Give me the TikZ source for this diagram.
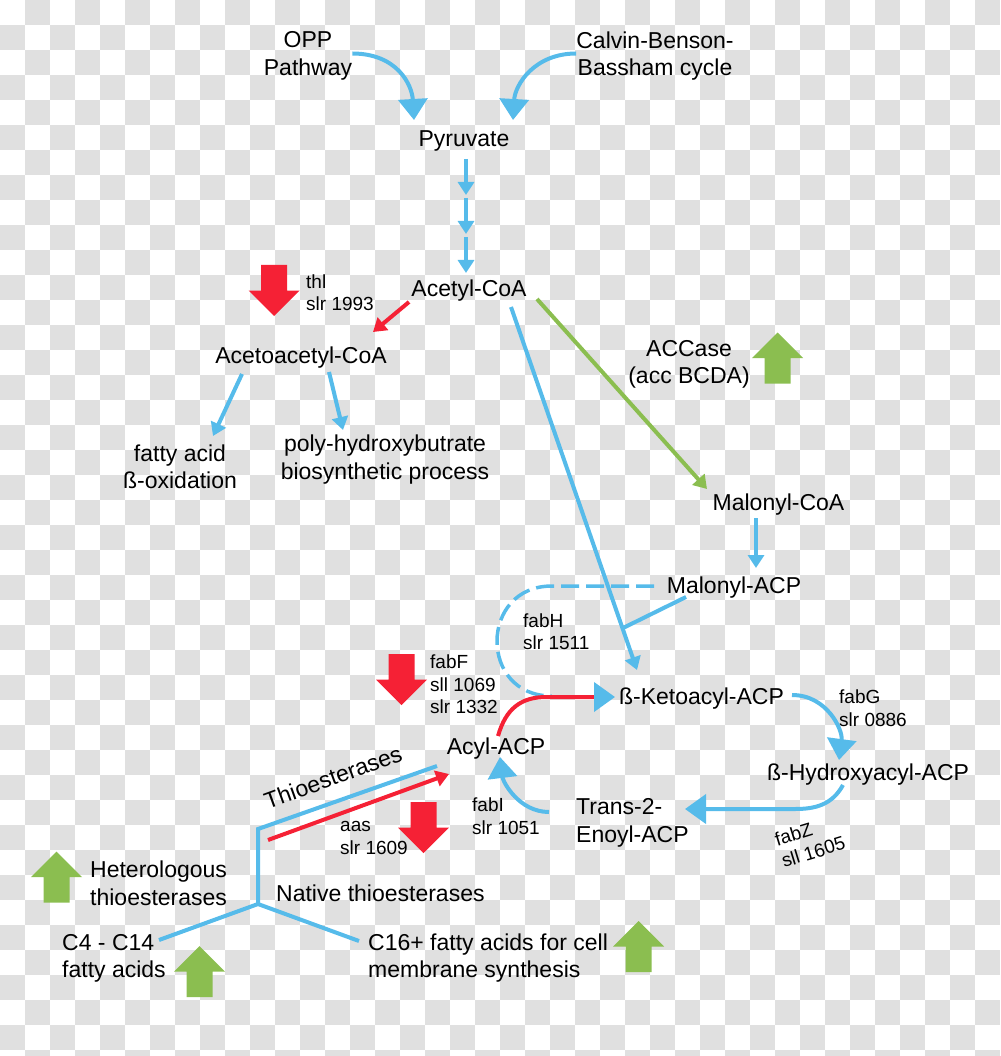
\documentclass[tikz,border=0pt]{standalone}
\usepackage{fontspec}
\setmainfont{Liberation Sans}
\usetikzlibrary{arrows.meta, calc}
\definecolor{pathblue}{RGB}{86,187,234}
\definecolor{pathred}{RGB}{245,33,53}
\definecolor{pathgreen}{RGB}{139,190,80}
\definecolor{checker}{RGB}{224,224,224}
\newcommand{\bigtext}{\fontsize{23}{27.5}\selectfont}
\newcommand{\genetext}{\fontsize{19}{22.5}\selectfont}
\tikzstyle{metab}=[font=\bigtext, inner sep=0, text depth=0pt, align=center]
\tikzstyle{note}=[metab, align=left, anchor=west]
\tikzstyle{gene}=[font=\genetext, inner sep=0, text depth=0pt, align=left, anchor=west]
\tikzstyle{flow}=[line width=4pt, -{Triangle[width=16pt,length=13pt]}]
\tikzstyle{bigflow}=[line width=4pt, -{Triangle[width=29pt,length=21pt]}]
\tikzset{blockup/.pic={\fill (0,-25.5) -- (25.5,0) -- (13,0) -- (13,25.5) -- (-13,25.5) -- (-13,0) -- (-25.5,0) -- cycle;}}

\begin{document}
\begin{tikzpicture}[x=1pt,y=-1pt]
\useasboundingbox (0,0) rectangle (1000,1056);
% transparent-looking background
\begin{scope}
\clip (0,0) rectangle (1000,1056);
\foreach \i in {0,...,39}{
	\foreach \j in {0,...,42}{
	\pgfmathtruncatemacro\chk{\i+\j}
	\ifodd\chk
		\fill[checker] (25*\i,25*\j) rectangle +(25,25);
	\fi
		}}
\end{scope}

% metabolites and genes
\node[metab] (opp) at (308,53.5) {OPP\\Pathway};
\node[metab] (calvin) at (655,53.5) {Calvin-Benson-\\Bassham cycle};
\node[metab] (pyr) at (464,139) {Pyruvate};
\node[metab] (acetyl) at (469,288) {Acetyl-CoA};
\node[gene] (thl) at (306,292.5) {thl\\slr 1993};
\node[metab] (aca) at (301,355) {Acetoacetyl-CoA};
\node[metab] (fao) at (180,466.5) {fatty acid\\ß-oxidation};
\node[metab] (phb) at (385,457) {poly-hydroxybutrate\\biosynthetic process};
\node[metab] (accase) at (689,362) {ACCase\\(acc BCDA)};
\node[metab] (malcoa) at (778.5,502) {Malonyl-CoA};
\node[metab] (malacp) at (734,585) {Malonyl-ACP};
\node[gene] (fabh) at (523,631.5) {fabH\\slr 1511};
\node[gene] (fabf) at (430,684.5) {fabF\\sll 1069\\slr 1332};
\node[metab] (keto) at (701.5,696) {ß-Ketoacyl-ACP};
\node[gene] (fabg) at (839,708) {fabG\\slr 0886};
\node[metab] (acyl) at (496,746) {Acyl-ACP};
\node[metab] (hydroxy) at (868,772) {ß-Hydroxyacyl-ACP};
\node[note] (enoyl) at (576,820.5) {Trans-2-\\Enoyl-ACP};
\node[gene] (fabi) at (472,816) {fabI\\slr 1051};
\node[gene, anchor=center, rotate=17] (fabz) at (810,841) {fabZ\\sll 1605};
\node[metab, rotate=20] (thio) at (333,777) {Thioesterases};
\node[gene] (aas) at (340,838) {aas\\slr 1609};
\node[note] (hetero) at (90,883) {Heterologous\\thioesterases};
\node[note] (native) at (276,893) {Native thioesterases};
\node[note] (short) at (62,956) {C4 - C14\\fatty acids};
\node[note] (long) at (368,955.5) {C16+ fatty acids for cell\\membrane synthesis};

% into pyruvate
\draw[bigflow, pathblue] (opp.east) .. controls +(45,0) and +(-2,-35) .. ($(pyr)+(-50,-19)$);
\draw[bigflow, pathblue] (calvin.west) .. controls +(-42,0) and +(2,-35) .. ($(pyr)+(49,-19)$);
\foreach \s in {0,1,2}
	\draw[flow, pathblue] ($(pyr)+(2,20+39*\s)$) -- ($(pyr)+(2,56+39*\s)$);

% acetyl-CoA branches
\draw[flow, pathred] ($(acetyl)+(-60,14)$) -- ($(aca)+(72,-23)$);
\draw[flow, pathblue] ($(aca)+(-59,19)$) -- ($(fao)+(33,-30.5)$);
\draw[flow, pathblue] ($(aca)+(28,17)$) -- ($(phb)+(-42,-27)$);
\draw[flow, pathgreen] ($(acetyl)+(68,11)$) -- ($(malcoa)+(-71.5,-13)$);
\coordinate (ak1) at ($(acetyl)+(42,19)$);
\coordinate (ak2) at ($(keto)+(-64.5,-26)$);
\draw[flow, pathblue] (ak1) -- (ak2);
\draw[flow, pathblue] ($(malcoa)+(-22.5,16)$) -- ($(malacp)+(22,-17)$);
\draw[line width=4pt, pathblue] ($(malacp)+(-48,12)$) -- ($(ak1)!0.885!(ak2)$);

% fabH loop and fabF
\draw[line width=3.5pt, pathblue, dash pattern=on 18pt off 7pt] ($(malacp)+(-80,1)$) -- ($(malacp)+(-182,1)$) .. controls +(-73,0) and +(-73,0) .. ($(keto)+(-150,0)$);
\draw[line width=4pt, pathred, -{Triangle[width=29pt,length=21pt,color=pathblue]}] ($(acyl)+(2,-10)$) .. controls +(8,-28) and +(-25,0) .. ($(keto)+(-155,1)$) -- ($(keto)+(-86.5,1)$);

% elongation cycle
\draw[bigflow, pathblue] ($(keto)+(90.5,-1)$) .. controls +(35,0) and +(4,-30) .. ($(hydroxy)+(-29,-12)$);
\draw[bigflow, pathblue] ($(hydroxy)+(-25,13)$) .. controls +(-11,20) and +(20,0) .. ($(hydroxy)+(-73,37)$) -- ($(enoyl.west)+(109,-11.5)$);
\draw[bigflow, pathblue] ($(enoyl.west)+(-27,-8.5)$) .. controls +(-30,0) and +(3,25) .. ($(acyl)+(4,11)$);

% thioesterases
\coordinate (bend) at (258,829);
\coordinate (fork) at (258,904);
\draw[line width=4pt, pathblue] ($(acyl)+(-59,20)$) -- (bend) -- (fork) -- ($(short.west)+(97,-16)$);
\draw[line width=4pt, pathblue] (fork) -- ($(long.west)+(-9,-14.5)$);
\draw[flow, pathred] ($(bend)+(10,11)$) -- ($(acyl)+(-47,28)$);

% up and down regulation
\pic[pathred, rotate=180] at (274,290.5) {blockup};
\pic[pathred, rotate=180] at (401.5,679.5) {blockup};
\pic[pathred, rotate=180] at (423.5,827.5) {blockup};
\pic[pathgreen] at (777.5,358) {blockup};
\pic[pathgreen] at (56.5,877) {blockup};
\pic[pathgreen] at (199.5,971.5) {blockup};
\pic[pathgreen] at (638.5,946.5) {blockup};
\end{tikzpicture}
\end{document}
